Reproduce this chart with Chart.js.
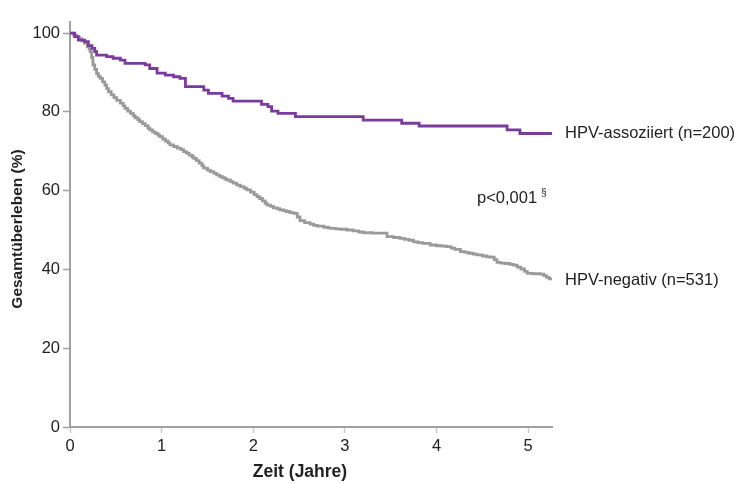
<!DOCTYPE html>
<html>
<head>
<meta charset="utf-8">
<script src="https://cdn.jsdelivr.net/npm/chart.js@4/dist/chart.umd.min.js"></script>
<style>
  html, body { margin: 0; padding: 0; background: #fff; }
  .chart-container { position: relative; width: 736px; height: 483px; }
</style>
</head>
<body>
<div class="chart-container"><canvas id="kmChart"></canvas></div>
<script>
// Kaplan-Meier: time in years, survival in %
const hpvPosTime = [0, 0.05, 0.09, 0.16, 0.2, 0.24, 0.27, 0.29, 0.40, 0.47, 0.55, 0.60, 0.82, 0.87, 0.95, 1.04, 1.13, 1.20, 1.26, 1.46, 1.51, 1.66, 1.73, 1.78, 2.09, 2.16, 2.20, 2.27, 2.46, 3.20, 3.62, 3.81, 4.77, 4.91, 5.26];
const hpvPosSurv = [100, 99.1, 98.2, 97.8, 96.8, 96.1, 95.3, 94.4, 94.0, 93.6, 93.1, 92.3, 91.9, 91.0, 89.8, 89.3, 88.9, 88.5, 86.4, 85.5, 84.7, 84.0, 83.4, 82.7, 81.9, 81.3, 80.2, 79.6, 78.8, 77.9, 77.1, 76.4, 75.4, 74.5, 74.5];

const hpvNegTime = [0, 0.04, 0.07, 0.10, 0.13, 0.16, 0.19, 0.21, 0.22, 0.235, 0.25, 0.27, 0.29, 0.31, 0.33, 0.355, 0.38, 0.40, 0.42, 0.45, 0.48, 0.51, 0.55, 0.58, 0.60, 0.63, 0.66, 0.69, 0.71, 0.74, 0.76, 0.79, 0.82, 0.85, 0.87, 0.90, 0.93, 0.96, 0.98, 1.01, 1.04, 1.07, 1.09, 1.13, 1.17, 1.21, 1.24, 1.27, 1.30, 1.33, 1.35, 1.38, 1.41, 1.44, 1.46, 1.50, 1.53, 1.57, 1.60, 1.63, 1.66, 1.69, 1.71, 1.75, 1.78, 1.82, 1.86, 1.90, 1.93, 1.97, 2.01, 2.04, 2.07, 2.10, 2.13, 2.15, 2.19, 2.22, 2.26, 2.29, 2.33, 2.36, 2.40, 2.44, 2.48, 2.51, 2.56, 2.62, 2.66, 2.70, 2.77, 2.82, 2.86, 2.90, 2.95, 3.02, 3.09, 3.15, 3.20, 3.30, 3.38, 3.46, 3.53, 3.60, 3.65, 3.70, 3.75, 3.80, 3.85, 3.93, 4.00, 4.06, 4.11, 4.16, 4.20, 4.26, 4.31, 4.35, 4.40, 4.44, 4.50, 4.55, 4.59, 4.63, 4.66, 4.70, 4.75, 4.80, 4.84, 4.88, 4.92, 4.96, 4.99, 5.05, 5.13, 5.17, 5.20, 5.23, 5.26];
const hpvNegSurv = [100, 99.5, 99.1, 98.6, 98.0, 97.4, 96.5, 95.9, 95.3, 93.8, 91.9, 90.8, 89.7, 89.0, 88.5, 87.6, 86.8, 85.9, 85.1, 84.3, 83.6, 82.9, 82.2, 81.5, 80.9, 80.2, 79.6, 79.0, 78.5, 78.0, 77.5, 77.0, 76.5, 75.9, 75.4, 74.9, 74.5, 74.1, 73.7, 73.1, 72.6, 72.1, 71.6, 71.2, 70.8, 70.4, 69.9, 69.5, 69.0, 68.6, 68.2, 67.6, 67.0, 66.3, 65.7, 65.2, 64.8, 64.4, 64.0, 63.6, 63.3, 63.0, 62.7, 62.3, 61.9, 61.4, 61.0, 60.6, 60.2, 59.6, 59.0, 58.5, 58.0, 57.4, 56.8, 56.3, 56.0, 55.6, 55.4, 55.1, 54.9, 54.7, 54.4, 54.2, 53.3, 52.4, 51.9, 51.5, 51.2, 51.0, 50.7, 50.5, 50.4, 50.3, 50.2, 50.0, 49.8, 49.5, 49.3, 49.2, 49.2, 48.3, 48.1, 47.9, 47.6, 47.4, 47.0, 46.8, 46.6, 46.2, 46.0, 45.9, 45.8, 45.4, 45.1, 44.5, 44.3, 44.1, 43.9, 43.7, 43.4, 43.2, 43.1, 42.5, 41.8, 41.6, 41.5, 41.3, 41.1, 40.6, 40.1, 39.5, 39.0, 38.9, 38.8, 38.4, 38.0, 37.6, 37.3];

const xTicks = [0, 1, 2, 3, 4, 5];
const yTicks = [0, 20, 40, 60, 80, 100];

const seriesLabels = ['HPV-assoziiert (n=200)', 'HPV-negativ (n=531)'];
const pValueText = 'p<0,001';
const xTitle = 'Zeit (Jahre)';
const yTitle = 'Gesamtüberleben (%)';

const toPoints = (t, s) => t.map((x, i) => ({ x: x, y: s[i] }));

const FONT = '"Liberation Sans", Arial, sans-serif';
const AXIS_COLOR = '#a0a0a0';
const TEXT_COLOR = '#222';

// axis titles, curve labels and p-value
const annotations = {
    id: 'annotations',
    afterDraw(chart) {
        const ctx = chart.ctx;
        const xs = chart.scales.x;
        const ys = chart.scales.y;
        ctx.save();
        ctx.fillStyle = TEXT_COLOR;
        ctx.textBaseline = 'middle';

        ctx.font = '16.5px ' + FONT;
        ctx.textAlign = 'left';
        const lastPos = hpvPosSurv[hpvPosSurv.length - 1];
        const lastNeg = hpvNegSurv[hpvNegSurv.length - 1];
        ctx.fillText(seriesLabels[0], xs.right + 13, ys.getPixelForValue(lastPos));
        ctx.fillText(seriesLabels[1], xs.right + 13, ys.getPixelForValue(lastNeg));
        ctx.fillText(pValueText, 477, 198);
        const w = ctx.measureText(pValueText).width;
        ctx.font = '10px ' + FONT;
        ctx.fillText('§', 477 + w + 4, 193);

        ctx.font = 'bold 17.5px ' + FONT;
        ctx.textAlign = 'center';
        ctx.fillText(xTitle, 300, 472);

        ctx.translate(18, 229);
        ctx.rotate(-Math.PI / 2);
        ctx.font = 'bold 15.5px ' + FONT;
        ctx.fillText(yTitle, 0, 0);
        ctx.restore();
    }
};

const ctx = document.getElementById('kmChart').getContext('2d');
new Chart(ctx, {
    type: 'line',
    data: {
        datasets: [
            {
                label: seriesLabels[0],
                data: toPoints(hpvPosTime, hpvPosSurv),
                borderColor: '#7a3b9c',
                borderWidth: 2.8,
                stepped: 'before',
                pointRadius: 0,
                fill: false
            },
            {
                label: seriesLabels[1],
                data: toPoints(hpvNegTime, hpvNegSurv),
                borderColor: '#9a9a9a',
                borderWidth: 2.8,
                stepped: 'before',
                pointRadius: 0,
                fill: false
            }
        ]
    },
    options: {
        responsive: true,
        maintainAspectRatio: false,
        animation: false,
        layout: { padding: { left: 0, top: 22, right: 184, bottom: 0 } },
        plugins: {
            legend: { display: false },
            tooltip: { enabled: false }
        },
        scales: {
            x: {
                type: 'linear',
                min: 0,
                max: 5.26,
                afterFit: (s) => { s.height = 56; },
                afterBuildTicks: (s) => { s.ticks = xTicks.map(v => ({ value: v })); },
                grid: {
                    drawOnChartArea: false,
                    drawTicks: true,
                    tickLength: 6,
                    tickColor: '#c8c8c8',
                    tickWidth: 1.5
                },
                border: { color: AXIS_COLOR, width: 2 },
                ticks: {
                    color: TEXT_COLOR,
                    font: { family: FONT, size: 16.5 },
                    padding: 4,
                    maxRotation: 0,
                    includeBounds: false
                },
                title: { display: false }
            },
            y: {
                min: 0,
                max: 102.8,
                afterFit: (s) => { s.width = 70; },
                afterBuildTicks: (s) => { s.ticks = yTicks.map(v => ({ value: v })); },
                grid: {
                    drawOnChartArea: false,
                    drawTicks: true,
                    tickLength: 7,
                    tickColor: '#a0a0a0',
                    tickWidth: 1.5
                },
                border: { color: AXIS_COLOR, width: 2 },
                ticks: {
                    color: TEXT_COLOR,
                    font: { family: FONT, size: 16.5 },
                    padding: 3,
                    includeBounds: false
                },
                title: { display: false }
            }
        }
    },
    plugins: [annotations]
});
</script>
</body>
</html>
